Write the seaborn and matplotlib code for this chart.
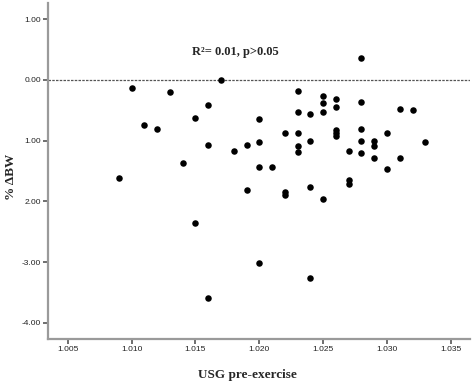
import matplotlib
matplotlib.use("Agg")
import matplotlib.pyplot as plt
import seaborn as sns
import pandas as pd

usg = [1.009, 1.010, 1.011, 1.012, 1.013, 1.014, 1.015, 1.015, 1.016, 1.016,
       1.016, 1.017, 1.018, 1.019, 1.019, 1.020, 1.020, 1.020, 1.020, 1.021,
       1.022, 1.022, 1.022, 1.023, 1.023, 1.023, 1.023, 1.023, 1.024, 1.024,
       1.024, 1.024, 1.025, 1.025, 1.025, 1.025, 1.026, 1.026, 1.026, 1.026,
       1.026, 1.027, 1.027, 1.027, 1.028, 1.028, 1.028, 1.028, 1.028, 1.029,
       1.029, 1.029, 1.030, 1.030, 1.031, 1.031, 1.032, 1.033]
dbw = [-1.61, -0.13, -0.74, -0.81, -0.19, -1.36, -0.63, -2.36, -0.41, -1.07,
       -3.59, 0.00, -1.17, -1.07, -1.82, -0.64, -1.02, -1.43, -3.01, -1.43,
       -0.88, -1.84, -1.89, -0.18, -0.53, -0.87, -1.08, -1.19, -0.56, -1.00,
       -1.77, -3.26, -0.27, -0.38, -0.53, -1.96, -0.32, -0.45, -0.82, -0.87,
       -0.92, -1.17, -1.64, -1.71, 0.36, -0.36, -0.81, -1.01, -1.20, -1.00,
       -1.08, -1.29, -0.87, -1.47, -0.47, -1.29, -0.49, -1.02]

x_ticks = [1.005, 1.010, 1.015, 1.020, 1.025, 1.030, 1.035]
x_ticklabels = ["1.005", "1.010", "1.015", "1.020", "1.025", "1.030", "1.035"]
y_ticks = [1, 0, -1, -2, -3, -4]
y_ticklabels = ["1.00", "0.00", "1.00", "2.00", "-3.00", "-4.00"]

df = pd.DataFrame({"usg": usg, "dbw": dbw})

sns.set_style("white")
fig = plt.figure(figsize=(4.74, 3.84), dpi=100)
ax = fig.add_axes([48/474, 1-339/384, (470-48)/474, (339-3)/384])

ax.axhline(0, color="#555555", lw=0.9, ls=(0, (2, 1)), zorder=1)
sns.scatterplot(data=df, x="usg", y="dbw", ax=ax, color="black", s=22,
                linewidth=0, zorder=3)

ax.set_xlim(1.00345, 1.0365)
ax.set_ylim(-4.267, 1.268)
ax.set_xticks(x_ticks)
ax.set_xticklabels(x_ticklabels)
ax.set_yticks(y_ticks)
ax.set_yticklabels(y_ticklabels)

for s in ["top", "right"]:
    ax.spines[s].set_visible(False)
for s in ["left", "bottom"]:
    ax.spines[s].set_color("#9a9a9a")
    ax.spines[s].set_linewidth(1.6)
ax.tick_params(axis="both", which="major", direction="out", length=3.5,
               width=1.2, color="#555555", labelsize=6, pad=1.5,
               bottom=True, left=True)
for lab in ax.get_xticklabels() + ax.get_yticklabels():
    lab.set_fontfamily("Liberation Sans")
    lab.set_color("#222222")

ax.set_xlabel("USG pre-exercise", fontfamily="Liberation Serif",
              fontweight="bold", fontsize=9.5, va="center")
ax.xaxis.set_label_coords((247 - 48) / 422, (339 - 375) / 336)
ax.set_ylabel("% ΔBW", fontfamily="Liberation Serif",
              fontweight="bold", fontsize=9.5, va="center")
ax.yaxis.set_label_coords((11 - 48) / 422, (339 - 177) / 336)
ax.text(0.444, 0.853, "R²= 0.01, p>0.05", transform=ax.transAxes,
        ha="center", va="center", fontfamily="Liberation Serif",
        fontweight="bold", fontsize=9)

fig.savefig("out.png", dpi=100)
